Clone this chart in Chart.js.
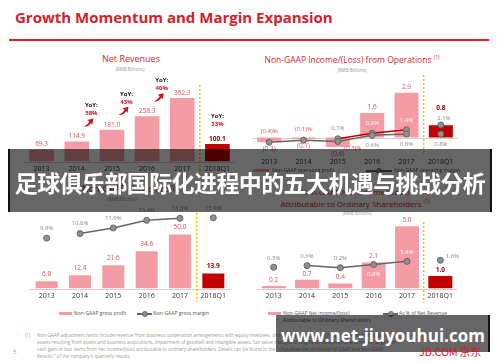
<!DOCTYPE html>
<html>
<head>
<meta charset="utf-8">
<script src="https://cdn.jsdelivr.net/npm/chart.js@4"></script>
<style>
  body { margin: 0; width: 500px; height: 362px; position: relative; overflow: hidden; background: #fff; font-family: "Open Sans", sans-serif; }
  canvas { position: absolute; }
  .t { position: absolute; white-space: nowrap; }
  .c { position: absolute; white-space: nowrap; transform: translate(-50%, -50%); }
  .red { color: #d9262f; }
  .sub { font-size: 4.6px; color: #999; }
  .leg { font-size: 5px; color: #555; }
  .sw { position: absolute; height: 3px; background: #f49ca3; }
  .ln { position: absolute; height: 1.5px; background: #666; }
  .dot { position: absolute; width: 4px; height: 4px; border-radius: 50%; background: #909090; border: 1px solid #666; }
  .foot { font-size: 4.6px; color: #9a9a9a; line-height: 7px; }
  .veil { position: absolute; background: rgba(0, 0, 0, 0.6); }
</style>
</head>
<body>

<div class="t" style="left:15px;top:8px;font-size:15px;font-weight:700;color:#d6202a;line-height:18px">Growth Momentum and Margin Expansion</div>
<div style="position:absolute;left:9px;top:39px;width:480px;height:2px;background:#d6202a"></div>

<!-- chart titles -->
<div class="c red" style="left:131px;top:58px;font-size:9px">Net Revenues</div>
<div class="c sub" style="left:130px;top:69px">(RMB Billions)</div>

<div class="c red" style="left:352px;top:59px;font-size:8.5px">Non-GAAP Income/(Loss) from Operations <sup style="font-size:5px">(1)</sup></div>
<div class="c sub" style="left:352px;top:70px">(RMB Billions)</div>

<div class="c red" style="left:130px;top:188px;font-size:9px">Non-GAAP Gross Profit</div>
<div class="c sub" style="left:122px;top:199px">(RMB Billions)</div>

<div class="c red" style="left:355px;top:191px;font-size:8px">Non-GAAP Net Income/(Loss)</div>
<div class="c red" style="left:355px;top:203px;font-size:8px">Attributable to Ordinary Shareholders <sup style="font-size:5px">(1)</sup></div>
<div class="c sub" style="left:357px;top:213px">(RMB Billions)</div>

<canvas id="c1" width="211" height="106" style="left:24px;top:70px"></canvas>
<canvas id="c2" width="216" height="104" style="left:247px;top:65px"></canvas>
<canvas id="c3" width="210" height="108" style="left:25px;top:195px"></canvas>
<canvas id="c4" width="210" height="108" style="left:252px;top:195px"></canvas>

<!-- legends -->
<div class="sw" style="left:253px;top:169px;width:16px"></div>
<div class="t leg" style="left:272px;top:167px">Non-GAAP operating profit</div>
<div class="ln" style="left:366px;top:170px;width:26px"></div>
<div class="dot" style="left:376px;top:168px"></div>
<div class="t leg" style="left:394px;top:167px">Non-GAAP operating margin</div>

<div class="sw" style="left:59px;top:312px;width:13px"></div>
<div class="t leg" style="left:74px;top:310px">Non-GAAP gross profit</div>
<div class="ln" style="left:137px;top:313px;width:15px"></div>
<div class="dot" style="left:142px;top:311px"></div>
<div class="t leg" style="left:153px;top:310px">Non-GAAP gross margin</div>

<div class="sw" style="left:268px;top:312px;width:13px"></div>
<div class="t leg" style="left:283px;top:310px">Non-GAAP Net income/(loss)</div>
<div class="t leg" style="left:283px;top:317px">Attributable to Ordinary Shareholders</div>
<div class="ln" style="left:383px;top:313px;width:15px"></div>
<div class="dot" style="left:388px;top:311px"></div>
<div class="t leg" style="left:399px;top:310px">As % of Net Revenue</div>

<!-- footnote -->
<div class="t foot" style="left:25px;top:332px">(1)</div>
<div class="t foot" style="left:37px;top:332px">
Non-GAAP adjustment items include revenue from business cooperation arrangements with equity investees, share-based compensation, amortization of intangible<br>
assets resulting from assets and business acquisitions, impairment of goodwill and intangible assets, fair value changes of long-term investments, and certain large non-<br>
cash gain or loss items from net income/(loss) attributable to ordinary shareholders. Details can be found in the "Unaudited Reconciliation of GAAP and Non-GAAP<br>
Results " of the company's quarterly results.</div>
<div class="t" style="left:13px;top:348px;font-size:6px;color:#999">5</div>

<!-- overlays -->
<div class="veil" style="left:8px;top:149px;width:480px;height:63px;border-left:2px solid #111;border-right:2px solid #111"></div>
<div class="c" style="left:250px;top:182px;font-size:23px;font-weight:700;color:#fff;font-family:'Noto Sans CJK SC',sans-serif;letter-spacing:-0.6px">足球俱乐部国际化进程中的五大机遇与挑战分析</div>

<div class="veil" style="left:276px;top:315px;width:212px;height:37px;border-right:2px solid #111"></div>
<div class="c" style="left:383px;top:335px;font-size:17px;font-weight:700;color:#fff">www.net-jiuyouhui.com</div>
<div class="c" style="left:450px;top:351px;font-size:11px;color:#d71920;font-family:'Noto Sans CJK SC',sans-serif;letter-spacing:-0.3px">JD.COM 京东</div>

<script>
const years = ['2013', '2014', '2015', '2016', '2017', '2018Q1'];
const netRevenues = [69.3, 114.9, 181.0, 258.3, 362.3, 100.1];
const revenueYoY = [null, null, 58, 43, 40, 33];
const opIncome = [-0.3, -0.1, -0.6, 1.6, 2.9, 0.8];
const opMargin = [-0.4, -0.1, -0.3, 0.6, 0.8, 0.8];
const opMarginCore = [null, null, 0.1, 0.9, 1.4, 2.1];
const grossProfit = [6.8, 12.4, 21.6, 34.6, 50.0, 13.9];
const grossMargin = [9.9, 10.8, 11.9, 13.4, 13.8, 13.9];
const netIncome = [0.2, 0.7, 0.4, 2.1, 5.0, 1.0];
const netMargin = [0.3, 0.6, 0.2, 0.8, 1.4, 1.6];

const PINK = '#f49ca3';
const DARK = '#c00000';
const VAL = '#e0505a';
const GREY = '#888';
const barColors = years.map((y, i) => i === 5 ? DARK : PINK);

const num = v => v < 0 ? '(' + Math.abs(v).toFixed(1) + ')' : v.toFixed(1);
const pct = v => num(v) + '%';

// text next to each bar / point
const labels = {
  id: 'labels',
  afterDatasetsDraw(chart) {
    const ctx = chart.ctx;
    chart.data.datasets.forEach((ds, di) => {
      if (!ds.lbl) return;
      chart.getDatasetMeta(di).data.forEach((el, i) => {
        const v = ds.data[i];
        if (v == null) return;
        const o = ds.lbl(i, v);
        ctx.save();
        ctx.font = (o.b ? 'bold ' : '') + (o.s || 6.5) + 'px "Open Sans"';
        ctx.fillStyle = o.c;
        ctx.textAlign = 'center';
        ctx.textBaseline = 'middle';
        ctx.fillText(o.t, el.x + (o.dx || 0), el.y + o.dy);
        ctx.restore();
      });
    });
  }
};

// baseline at zero + yellow dotted divider before 2018Q1
const deco = {
  id: 'deco',
  beforeDatasetsDraw(chart, args, o) {
    const { ctx, chartArea: a, scales: { x, y } } = chart;
    ctx.save();
    ctx.strokeStyle = '#cfcfcf';
    ctx.lineWidth = 1;
    const y0 = Math.round(y.getPixelForValue(0)) + 0.5;
    ctx.beginPath(); ctx.moveTo(a.left, y0); ctx.lineTo(a.right, y0); ctx.stroke();
    const dx = (x.getPixelForValue(4) + x.getPixelForValue(5)) / 2;
    ctx.strokeStyle = '#f2c200';
    ctx.lineWidth = 1.5;
    ctx.setLineDash([2, 2]);
    ctx.beginPath(); ctx.moveTo(dx, o.top); ctx.lineTo(dx, o.bottom); ctx.stroke();
    ctx.restore();
  }
};

// YoY call-outs on the revenue chart
const yoy = {
  id: 'yoy',
  afterDatasetsDraw(chart) {
    const ctx = chart.ctx;
    const bars = chart.getDatasetMeta(0).data;
    const arrow = (x, y) => {
      ctx.fillStyle = '#d0101b';
      ctx.beginPath();
      ctx.moveTo(x - 5, y + 4);
      ctx.quadraticCurveTo(x - 1, y + 3, x + 1, y - 1);
      ctx.lineTo(x - 1, y - 2.5);
      ctx.lineTo(x + 5, y - 4);
      ctx.lineTo(x + 4, y + 2);
      ctx.lineTo(x + 2.5, y + 0.5);
      ctx.quadraticCurveTo(x, y + 5, x - 5, y + 4);
      ctx.fill();
    };
    const text = (x, y, p) => {
      ctx.font = 'bold 6px "Open Sans"';
      ctx.textAlign = 'center';
      ctx.textBaseline = 'middle';
      ctx.fillStyle = '#222';
      ctx.fillText('YoY:', x, y);
      ctx.fillStyle = '#d0101b';
      ctx.fillText(p + '%', x, y + 8);
    };
    ctx.save();
    revenueYoY.forEach((p, i) => {
      if (p == null) return;
      if (i < 5) {
        const x = (bars[i - 1].x + bars[i].x) / 2;
        const y = bars[i - 1].y - 19;
        arrow(x - 6, y);
        text(x - 3, y - 17, p);
      } else {
        text(bars[i].x, bars[i].y - 28, p);
      }
    });
    ctx.restore();
  }
};

const xAxis = {
  grid: { display: false, drawTicks: false },
  border: { display: false },
  ticks: { font: { size: 7, family: 'Open Sans' }, color: '#333', padding: 3 }
};

function lineSet(data, color, lbl, cut) {
  return {
    type: 'line', data, yAxisID: 'y1', order: 0, lbl,
    borderColor: color, borderWidth: 1.5,
    pointRadius: 3, pointBackgroundColor: '#909090', pointBorderColor: '#666', pointBorderWidth: 1,
    segment: { borderColor: s => cut.includes(s.p1DataIndex) ? 'transparent' : color }
  };
}

function build(id, bars, pctLines, y, y1, div, pcW) {
  return new Chart(document.getElementById(id), {
    type: 'bar',
    data: {
      labels: years,
      datasets: [Object.assign({
        type: 'bar', backgroundColor: barColors, yAxisID: 'y', order: 1,
        categoryPercentage: 1, barPercentage: pcW || 0.7
      }, bars)].concat(pctLines)
    },
    options: {
      responsive: false,
      animation: false,
      layout: { padding: 0 },
      plugins: { legend: { display: false }, tooltip: { enabled: false }, deco: div },
      scales: {
        x: xAxis,
        y: Object.assign({ display: false }, y),
        y1: Object.assign({ display: false }, y1)
      }
    },
    plugins: [deco, labels].concat(id === 'c1' ? [yoy] : [])
  });
}

const valLbl = (dyUp, dyDown) => (i, v) => ({
  t: num(v), dy: v < 0 ? dyDown : dyUp, c: i === 5 ? '#a00000' : VAL, b: i === 5
});

// Net revenues
build('c1', { data: netRevenues, lbl: valLbl(-5, 6) }, [],
  { min: 0, max: 522 }, { min: 0, max: 1 }, { top: 15, bottom: 106 }, 0.7);

// Non-GAAP income from operations
build('c2', {
  data: opIncome,
  lbl: (i, v) => ({ t: num(v), dy: v < 0 ? 7 : (i === 5 ? -17 : -6), c: i === 5 ? '#a00000' : VAL, b: i === 5 })
}, [
  lineSet(opMargin, '#666', (i, v) => {
    if (i === 2) return { t: pct(v), dx: 15, dy: 7, c: VAL, s: 6 };
    return { t: pct(v), dy: v < 0 ? -11 : 10, c: v < 0 ? VAL : GREY, s: 6 };
  }, [5]),
  lineSet(opMarginCore, '#c00000', (i, v) => ({
    t: pct(v), dx: i === 5 ? 3 : 0, dy: i === 5 ? -7 : -10, c: (i === 3 || i === 4) ? '#fff' : GREY, s: 6
  }), [5])
], { min: -1.1, max: 4.38 }, { min: -2.21, max: 10.13 }, { top: 10, bottom: 90 }, 0.7);

// Non-GAAP gross profit
build('c3', { data: grossProfit, lbl: valLbl(-7, 6) }, [
  lineSet(grossMargin, '#666', (i, v) => ({ t: pct(v), dy: -10, c: GREY, s: 6 }), [1, 5])
], { min: 0, max: 81.9 }, { min: 0, max: 17.4 }, { top: 18, bottom: 107 }, 0.66);

// Non-GAAP net income
build('c4', { data: netIncome, lbl: valLbl(-6, 6) }, [
  lineSet(netMargin, '#666', (i, v) => {
    if (i === 3) return { t: pct(v), dy: 10, c: '#fff', s: 6 };
    if (i === 4) return { t: pct(v), dy: -9, c: '#fff', s: 6 };
    if (i === 5) return { t: pct(v), dx: 12, dy: -4, c: GREY, s: 6 };
    return { t: pct(v), dy: -9, c: GREY, s: 6 };
  }, [1, 5])
], { min: 0, max: 7.1 }, { min: -3.72, max: 12.93 }, { top: 27, bottom: 108 }, 0.72);
</script>
</body>
</html>
